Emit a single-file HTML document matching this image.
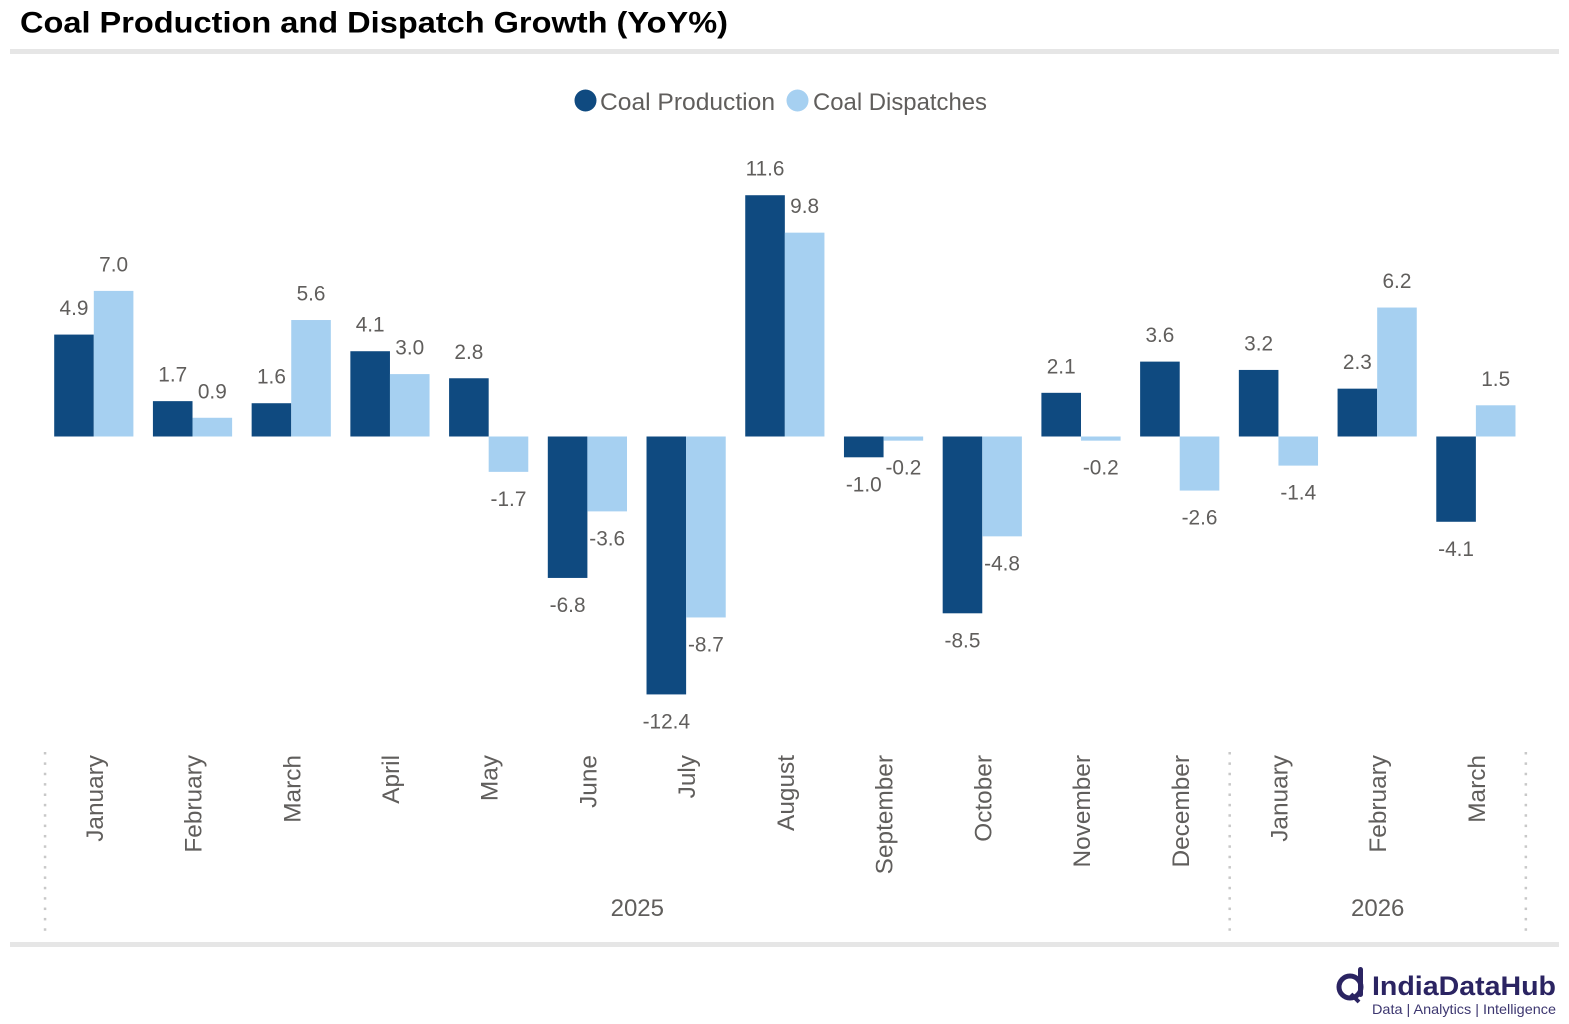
<!DOCTYPE html>
<html lang="en">
<head>
<meta charset="utf-8">
<title>Coal Production and Dispatch Growth (YoY%)</title>
<style>
html,body{margin:0;padding:0;background:#fff;width:1569px;height:1024px;overflow:hidden}
svg{display:block;font-family:"Liberation Sans",sans-serif}
</style>
</head>
<body>
<svg id="chart" width="1569" height="1024" viewBox="0 0 1569 1024" xmlns="http://www.w3.org/2000/svg">
  <rect x="0" y="0" width="1569" height="1024" fill="#ffffff"/>
  <text x="20" y="32.5" font-size="30" font-weight="700" fill="#000000" textLength="708" lengthAdjust="spacingAndGlyphs">Coal Production and Dispatch Growth (YoY%)</text>
  <rect x="10" y="49" width="1549" height="5" fill="#e6e6e6"/>
  <rect x="10" y="942" width="1549" height="5" fill="#e6e6e6"/>

  <g>
    <circle cx="585.5" cy="100.5" r="11" fill="#0f4a80"/>
    <text x="600" y="110" font-size="24" fill="#605e5c" textLength="175" lengthAdjust="spacingAndGlyphs">Coal Production</text>
    <circle cx="797.5" cy="100.5" r="11" fill="#a6d0f1"/>
    <text x="813" y="110" font-size="24" fill="#605e5c" textLength="174" lengthAdjust="spacingAndGlyphs">Coal Dispatches</text>
  </g>

  <g id="bars"></g>
  <g id="labels"></g>
  <g id="axis"></g>

  <g>
    <circle cx="1350" cy="987" r="11" fill="none" stroke="#2b2462" stroke-width="5"/>
    <rect x="1358" y="967" width="5" height="30" rx="2.5" fill="#2b2462"/>
    <path d="M1351 994 L1359 1002" stroke="#2b2462" stroke-width="4" fill="none"/>
    <text x="1372" y="995" font-size="27" font-weight="700" fill="#2b2462" textLength="184" lengthAdjust="spacingAndGlyphs">IndiaDataHub</text>
    <text x="1372" y="1014" font-size="14" fill="#3d3770" textLength="184" lengthAdjust="spacingAndGlyphs">Data | Analytics | Intelligence</text>
  </g>
</svg>
<script>
const months = ["January","February","March","April","May","June","July","August","September","October","November","December","January","February","March"];
const coalProduction = [4.9,1.7,1.6,4.1,2.8,-6.8,-12.4,11.6,-1.0,-8.5,2.1,3.6,3.2,2.3,-4.1];
const coalDispatches = [7.0,0.9,5.6,3.0,-1.7,-3.6,-8.7,9.8,-0.2,-4.8,-0.2,-2.6,-1.4,6.2,1.5];
const yearNames = ["2025","2026"];
const yearMonthCounts = [12,3];

const NS = "http://www.w3.org/2000/svg";
const plotLeft = 45, bandStep = 98.72, barWidth = 39.6, barInset = 9.2;
const zeroY = 436.5, unitPx = 20.8;
function xBand(i){ return plotLeft + bandStep * i; }
function yValue(v){ return zeroY - v * unitPx; }
function make(tag, attrs, parent){
  const el = document.createElementNS(NS, tag);
  for (const k in attrs) el.setAttribute(k, attrs[k]);
  parent.appendChild(el);
  return el;
}
const barsG = document.getElementById("bars");
const labelsG = document.getElementById("labels");
const axisG = document.getElementById("axis");

function drawSeries(values, offset, color, key){
  values.forEach(function(v, i){
    const x = xBand(i) + barInset + offset * barWidth;
    const y0 = yValue(Math.max(v, 0));
    const y1 = yValue(Math.min(v, 0));
    const r = make("rect", {x: x, y: y0, width: barWidth, height: y1 - y0, fill: color}, barsG);
    
    
    const ly = v >= 0 ? y0 - 19.5 : y1 + 34;
    const t = make("text", {x: x + barWidth / 2, y: ly, "text-anchor": "middle", "font-size": 20.8, fill: "#605e5c"}, labelsG);
    t.textContent = v.toFixed(1);
    
    
  });
}
drawSeries(coalProduction, 0, "#0f4a80", "production");
drawSeries(coalDispatches, 1, "#a6d0f1", "dispatches");

months.forEach(function(m, i){
  const cx = xBand(i) + bandStep / 2 + 0.5;
  const t = make("text", {transform: "translate(" + (cx + 8) + ",755) rotate(-90)", "text-anchor": "end", "font-size": 24.4, fill: "#605e5c"}, axisG);
  t.textContent = m;
  
  
});

function drawBoundary(idx){
  const x = xBand(idx);
  for (let k = 0; k < 18; k++){
    const d = make("rect", {x: x - 1.2, y: 752 + k * 10.37, width: 2.5, height: 2.5, fill: "#c8c8c8"}, axisG);
    
    
  }
}
let startIdx = 0;
drawBoundary(0);
yearNames.forEach(function(y, j){
  const endIdx = startIdx + yearMonthCounts[j];
  drawBoundary(endIdx);
  const t = make("text", {x: (xBand(startIdx) + xBand(endIdx)) / 2, y: 916, "text-anchor": "middle", "font-size": 24, fill: "#605e5c"}, axisG);
  t.textContent = y;
  
  
  startIdx = endIdx;
});
</script>
</body>
</html>
